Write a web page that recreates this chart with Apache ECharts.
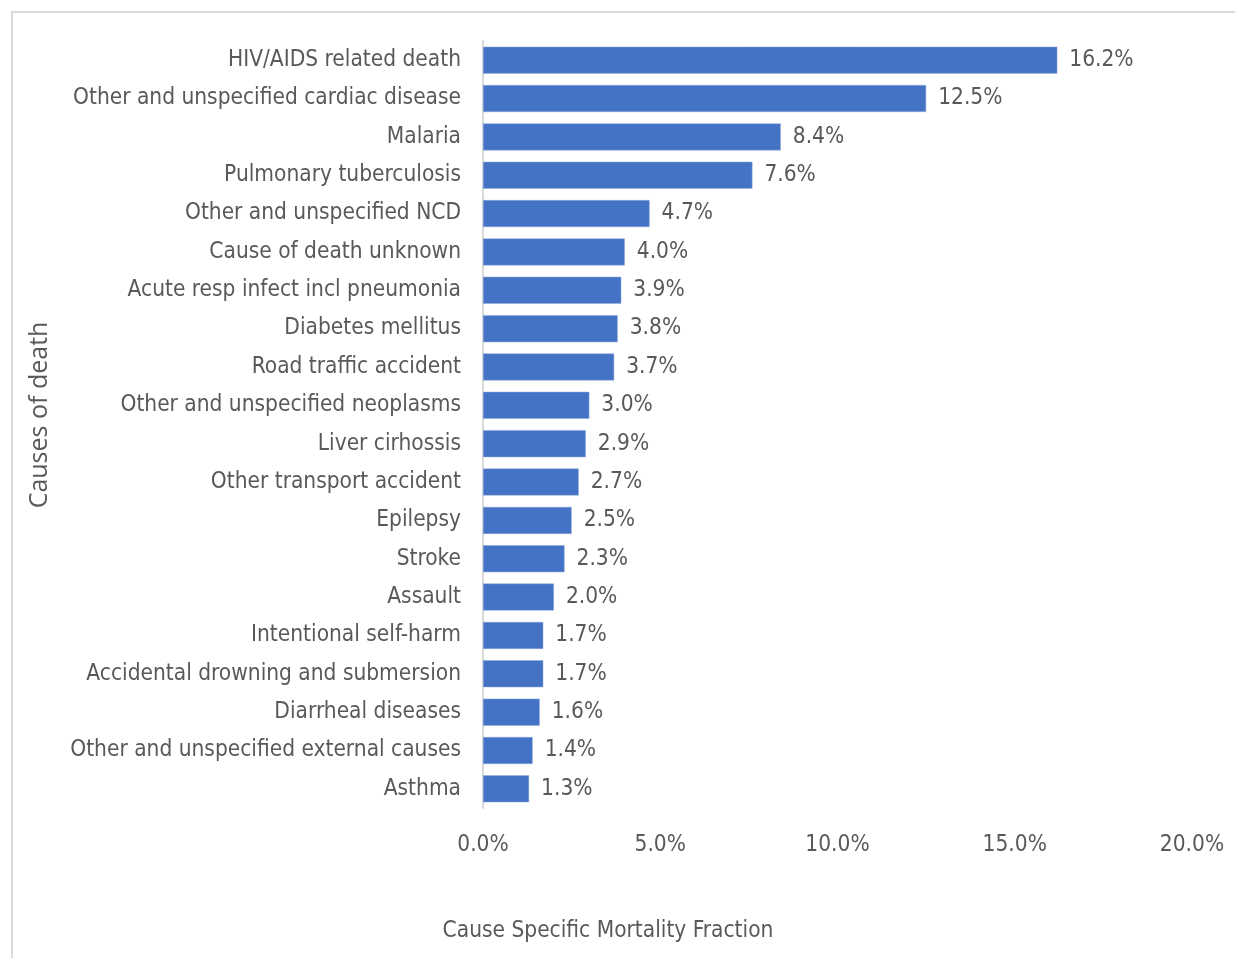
<!DOCTYPE html>
<html>
<head>
<meta charset="utf-8">
<script src="https://cdn.jsdelivr.net/npm/echarts@6/dist/echarts.min.js"></script>
<style>
  html, body { margin: 0; padding: 0; background: #ffffff; }
  #chart { width: 1235px; height: 958px; }
</style>
</head>
<body>
<div id="chart"></div>
<script>
// Causes of death, ordered from largest to smallest share
const causes = [
  'HIV/AIDS related death',
  'Other and unspecified cardiac disease',
  'Malaria',
  'Pulmonary tuberculosis',
  'Other and unspecified NCD',
  'Cause of death unknown',
  'Acute resp infect incl pneumonia',
  'Diabetes mellitus',
  'Road traffic accident',
  'Other and unspecified neoplasms',
  'Liver cirhossis',
  'Other transport accident',
  'Epilepsy',
  'Stroke',
  'Assault',
  'Intentional self-harm',
  'Accidental drowning and submersion',
  'Diarrheal diseases',
  'Other and unspecified external causes',
  'Asthma'
];

// Cause specific mortality fraction, percent
const csmf = [16.2, 12.5, 8.4, 7.6, 4.7, 4.0, 3.9, 3.8, 3.7, 3.0,
              2.9, 2.7, 2.5, 2.3, 2.0, 1.7, 1.7, 1.6, 1.4, 1.3];

const xAxisTitle = 'Cause Specific Mortality Fraction';
const yAxisTitle = 'Causes of death';

const FONT = "'DejaVu Sans Condensed', 'Liberation Sans Narrow', 'DejaVu Sans', sans-serif";
const TEXT = '#595959';
const SIZE = 22.5;

const chart = echarts.init(document.getElementById('chart'), null, { renderer: 'canvas' });

chart.setOption({
  animation: false,
  backgroundColor: '#ffffff',
  grid: { left: 483, right: 43, top: 41, bottom: 150, containLabel: false },
  xAxis: {
    type: 'value',
    min: 0,
    max: 20,
    interval: 5,
    axisLine: { show: false },
    axisTick: { show: false },
    splitLine: { show: false },
    axisLabel: {
      color: TEXT,
      fontFamily: FONT,
      fontSize: SIZE,
      margin: 26,
      formatter: v => v.toFixed(1) + '%'
    }
  },
  yAxis: {
    type: 'category',
    data: causes,
    inverse: true,
    axisLine: { show: true, lineStyle: { color: '#d9d9d9', width: 2 } },
    axisTick: { show: false },
    axisLabel: {
      color: TEXT,
      fontFamily: FONT,
      fontSize: SIZE,
      margin: 22,
      padding: [4, 0, 0, 0]
    }
  },
  series: [{
    type: 'bar',
    data: csmf,
    barWidth: 27,
    itemStyle: { color: '#4472C4', borderColor: '#8faadc', borderWidth: 0.5 },
    label: {
      show: true,
      position: 'right',
      distance: 12,
      color: TEXT,
      fontFamily: FONT,
      fontSize: SIZE,
      padding: [4, 0, 0, 0],
      formatter: p => p.value.toFixed(1) + '%'
    }
  }],
  graphic: [
    {
      type: 'rect',
      shape: { x: 12, y: 12, width: 1300, height: 1000 },
      style: { fill: 'none', stroke: '#d9d9d9', lineWidth: 2 },
      silent: true
    },
    {
      type: 'text',
      x: 608,
      y: 931,
      style: {
        text: xAxisTitle,
        fill: TEXT,
        font: SIZE + 'px ' + FONT,
        textAlign: 'center',
        textVerticalAlign: 'middle'
      }
    },
    {
      type: 'text',
      x: 40,
      y: 415,
      rotation: Math.PI / 2,
      style: {
        text: yAxisTitle,
        fill: TEXT,
        font: "25px 'Open Sans', 'Noto Sans', sans-serif",
        textAlign: 'center',
        textVerticalAlign: 'middle'
      }
    }
  ]
});
</script>
</body>
</html>
